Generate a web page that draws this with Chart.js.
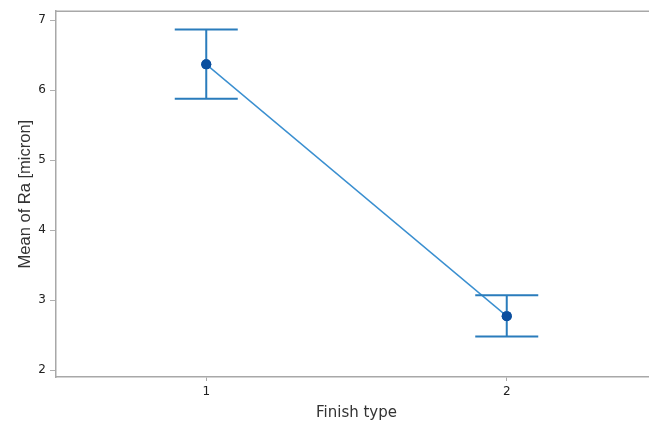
<!DOCTYPE html>
<html>
<head>
<meta charset="utf-8">
<script src="https://cdn.jsdelivr.net/npm/chart.js@4"></script>
<style>
  html, body { margin: 0; padding: 0; background: #fff; overflow: hidden; }
  #wrap { width: 662px; height: 425px; }
</style>
</head>
<body>
<div id="wrap"><canvas id="meanChart" width="662" height="425"></canvas></div>
<script>
// Mean of Ra by finish type, with interval bars
const categories = ['1', '2'];
const means = [6.37, 2.77];
const upperVals = [6.87, 3.07];
const lowerVals = [5.88, 2.48];
const yTicks = [2, 3, 4, 5, 6, 7];

// draws the interval whiskers and the frame line on top
const errorBars = {
  id: 'errorBars',
  afterDatasetsDraw(chart) {
    const ctx = chart.ctx;
    const yScale = chart.scales.y;
    const meta = chart.getDatasetMeta(0);
    ctx.save();
    ctx.strokeStyle = '#2a7cbc';
    ctx.lineWidth = 2;
    meta.data.forEach((pt, i) => {
      const x = pt.x;
      const yUp = yScale.getPixelForValue(upperVals[i]);
      const yLo = yScale.getPixelForValue(lowerVals[i]);
      ctx.beginPath();
      ctx.moveTo(x, yUp);
      ctx.lineTo(x, yLo);
      ctx.moveTo(x - 31.5, yUp);
      ctx.lineTo(x + 31.5, yUp);
      ctx.moveTo(x - 31.5, yLo);
      ctx.lineTo(x + 31.5, yLo);
      ctx.stroke();
    });
    // redraw the points over the whiskers
    ctx.fillStyle = '#0b4f9f';
    meta.data.forEach(pt => {
      ctx.beginPath();
      ctx.arc(pt.x, pt.y, 5, 0, Math.PI * 2);
      ctx.fill();
    });
    ctx.restore();
  },
  afterDraw(chart) {
    const ctx = chart.ctx;
    const area = chart.chartArea;
    ctx.save();
    ctx.strokeStyle = '#a8a8a8';
    ctx.lineWidth = 1.5;
    ctx.beginPath();
    ctx.moveTo(area.left, area.top);
    ctx.lineTo(chart.width, area.top);
    ctx.stroke();
    ctx.restore();
  }
};

new Chart(document.getElementById('meanChart'), {
  type: 'line',
  data: {
    labels: categories,
    datasets: [{
      data: means,
      borderColor: '#3a8fd0',
      borderWidth: 1.4,
      pointRadius: 5,
      pointBackgroundColor: '#0b4f9f',
      pointBorderWidth: 0,
      tension: 0,
      fill: false
    }]
  },
  options: {
    responsive: false,
    animation: false,
    devicePixelRatio: 1,
    layout: { padding: { top: 11, right: 4, bottom: 0, left: 0 } },
    plugins: {
      legend: { display: false },
      tooltip: { enabled: false }
    },
    scales: {
      x: {
        type: 'category',
        offset: true,
        grid: {
          display: true,
          offset: false,
          drawOnChartArea: false,
          tickLength: 4,
          color: '#a8a8a8'
        },
        border: { display: true, color: '#a8a8a8', width: 1.5 },
        ticks: {
          color: '#222',
          padding: 4,
          font: { family: 'DejaVu Sans', size: 12 }
        },
        title: {
          display: true,
          text: 'Finish type',
          color: '#333',
          font: { family: 'DejaVu Sans', size: 15 },
          padding: { top: 0, bottom: 3 }
        },
        afterFit(scale) { scale.height = 48; }
      },
      y: {
        min: 1.9,
        max: 7.13,
        afterBuildTicks(scale) {
          scale.ticks = yTicks.map(v => ({ value: v }));
        },
        grid: {
          display: true,
          drawOnChartArea: false,
          tickLength: 6,
          color: '#b0b0b0'
        },
        border: { display: true, color: '#a8a8a8', width: 1.5 },
        ticks: {
          color: '#222',
          padding: 4,
          font: { family: 'DejaVu Sans', size: 12 }
        },
        title: {
          display: true,
          text: 'Mean of Ra [micron]',
          color: '#333',
          font: { family: 'Liberation Sans', size: 16.5 },
          padding: { top: 16, bottom: 0 }
        },
        afterFit(scale) { scale.width = 56; }
      }
    }
  },
  plugins: [errorBars]
});
</script>
</body>
</html>
